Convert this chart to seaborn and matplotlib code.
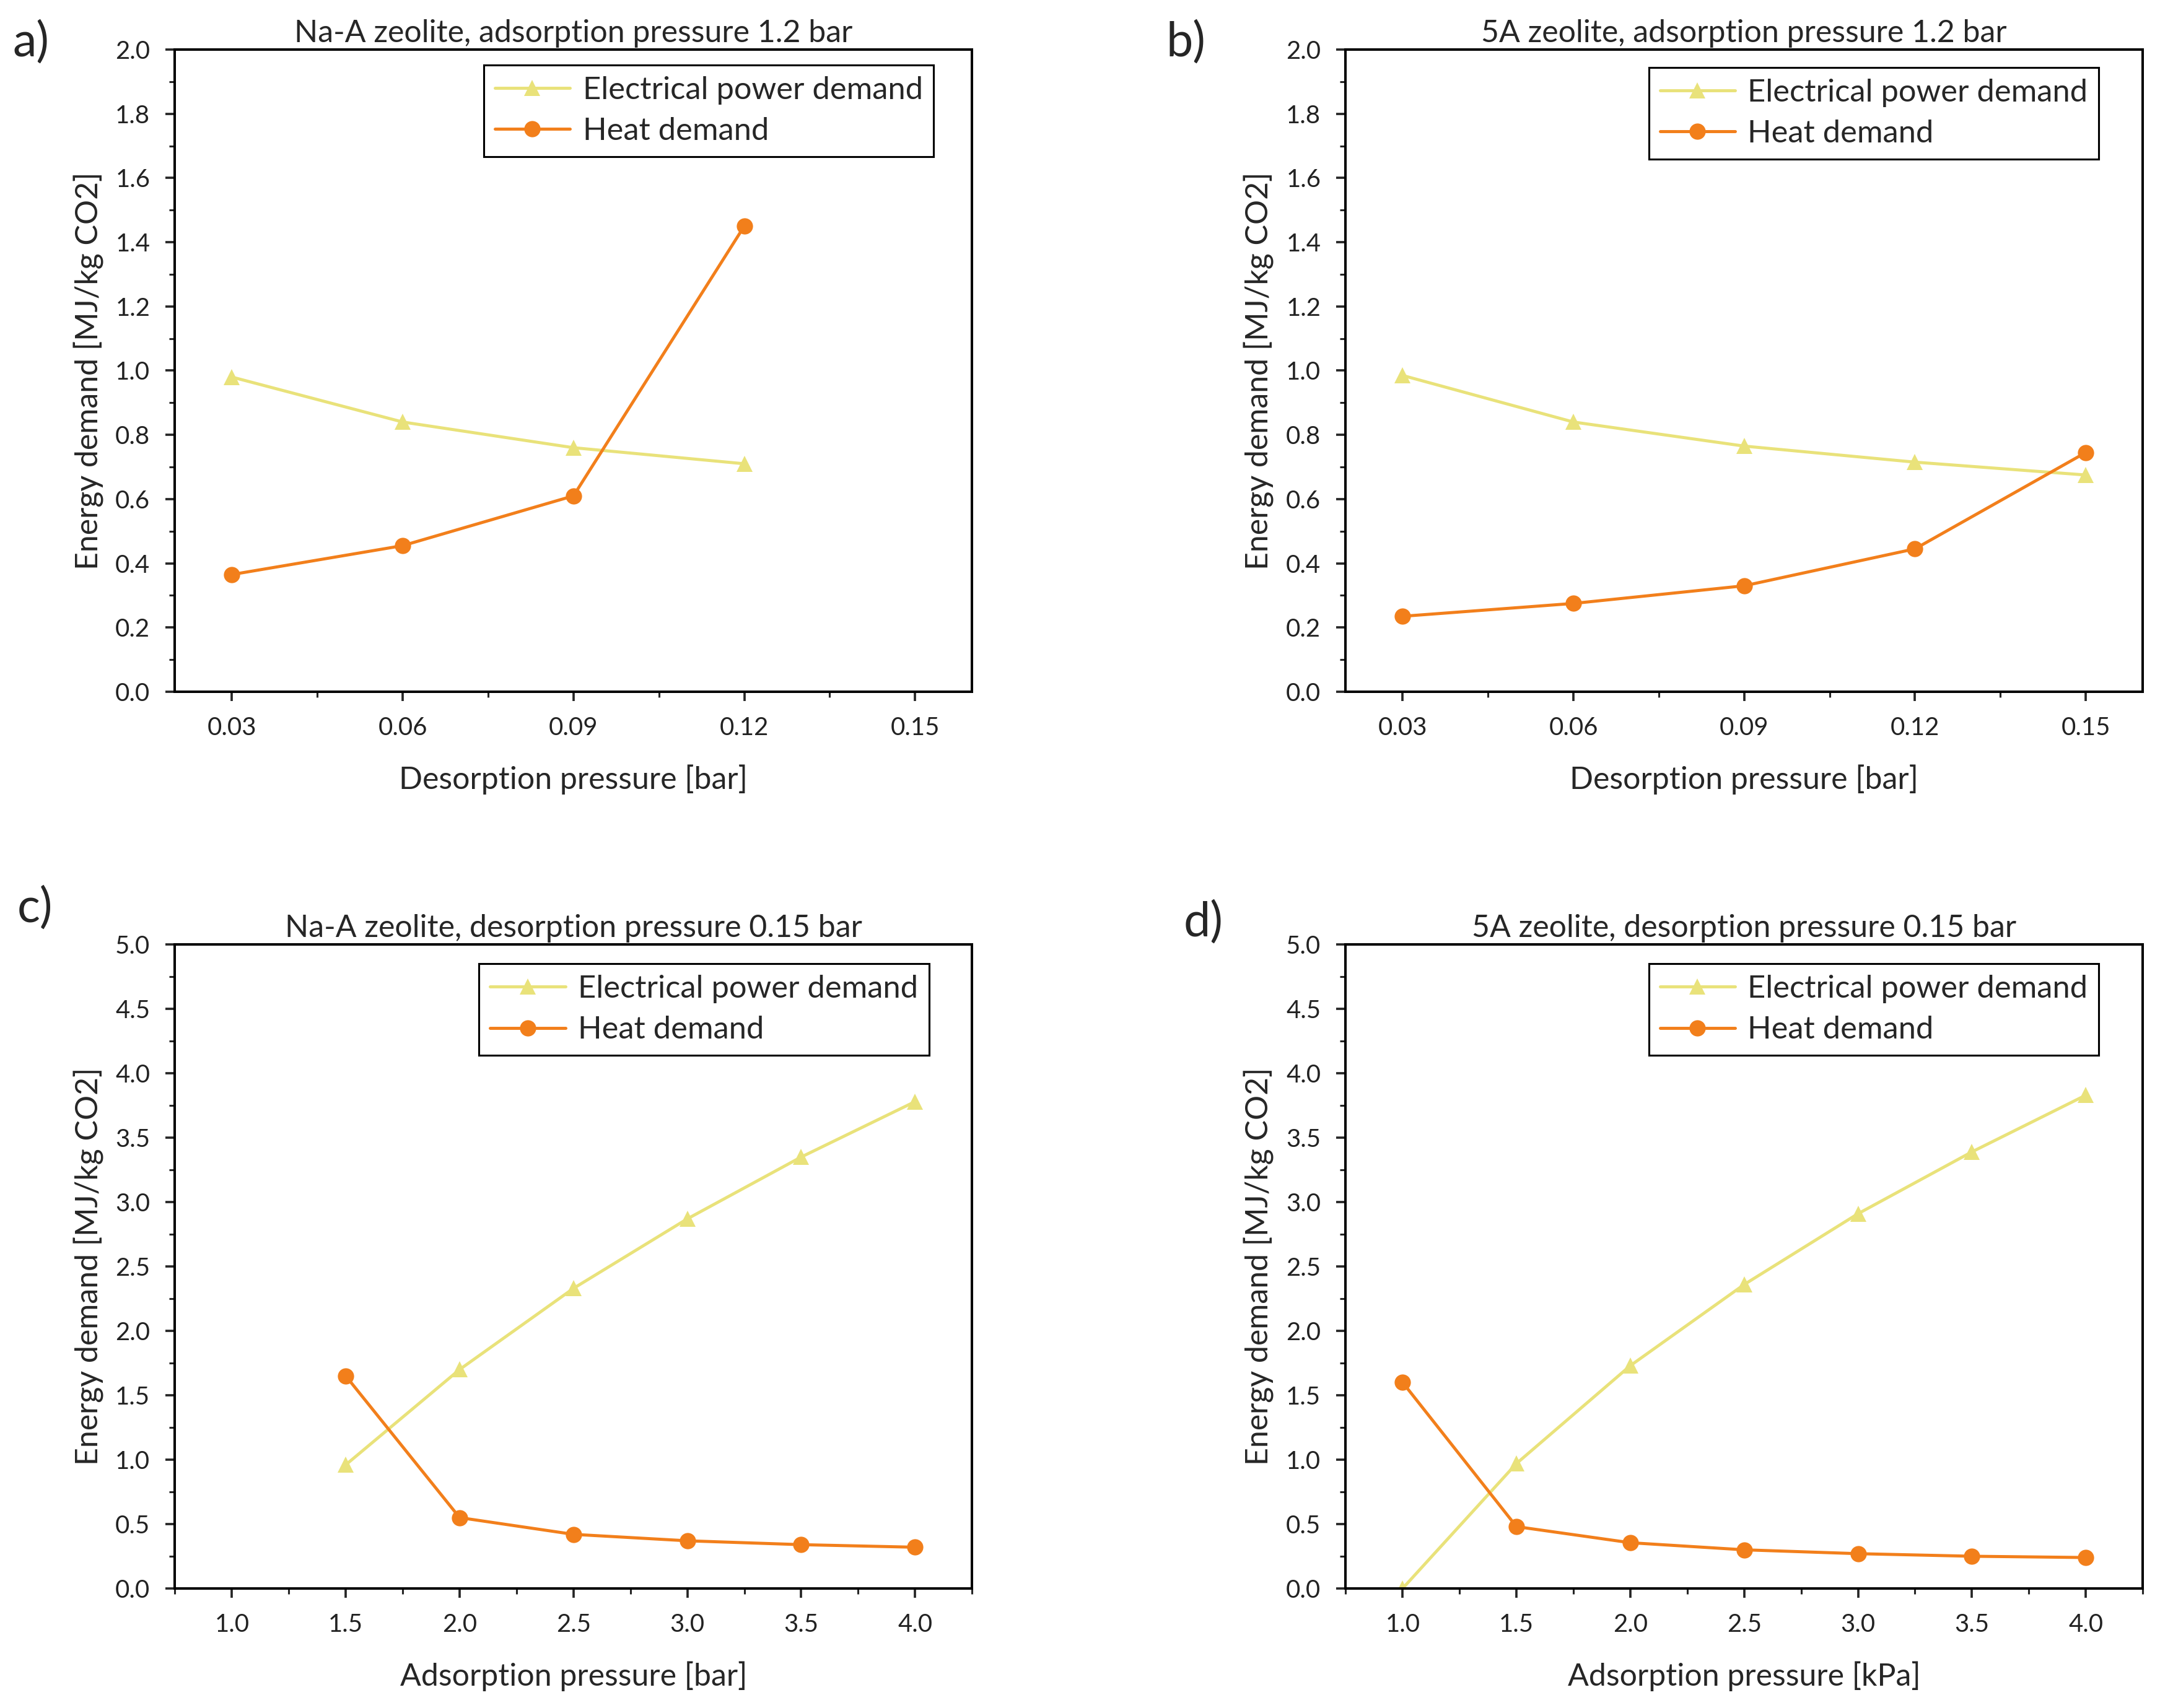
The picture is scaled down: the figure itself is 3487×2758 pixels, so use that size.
import numpy as np
import pandas as pd
import matplotlib
matplotlib.use('Agg')
import matplotlib.pyplot as plt
import seaborn as sns
from matplotlib.ticker import MultipleLocator, FixedLocator

# values
desorp_p = [0.03, 0.06, 0.09, 0.12, 0.15]
naa_elec_a = [0.98, 0.84, 0.76, 0.71]
naa_heat_a = [0.365, 0.455, 0.61, 1.45]
a5_elec_b = [0.985, 0.84, 0.765, 0.715, 0.675]
a5_heat_b = [0.235, 0.275, 0.33, 0.445, 0.745]

adsorp_p = [1.0, 1.5, 2.0, 2.5, 3.0, 3.5, 4.0]
naa_elec_c = [0.96, 1.70, 2.33, 2.87, 3.35, 3.78]
naa_heat_c = [1.65, 0.55, 0.42, 0.37, 0.34, 0.32]
a5_elec_d = [0.0, 0.97, 1.73, 2.36, 2.91, 3.39, 3.83]
a5_heat_d = [1.60, 0.48, 0.355, 0.30, 0.27, 0.25, 0.24]

titles = ['Na-A zeolite, adsorption pressure 1.2 bar',
          '5A zeolite, adsorption pressure 1.2 bar',
          'Na-A zeolite, desorption pressure 0.15 bar',
          '5A zeolite, desorption pressure 0.15 bar']
xlabels = ['Desorption pressure [bar]', 'Desorption pressure [bar]',
           'Adsorption pressure [bar]', 'Adsorption pressure [kPa]']
panel_tags = ['a)', 'b)', 'c)', 'd)']

sns.set_style('ticks')
plt.rcParams['font.family'] = ['Lato', 'DejaVu Sans']

yellow = '#E9E27A'
orange = '#F27F1B'

def make_df(x, elec, heat):
    d1 = pd.DataFrame({'x': x[len(x) - len(elec):], 'y': elec, 'series': 'Electrical power demand'})
    d2 = pd.DataFrame({'x': x[len(x) - len(heat):], 'y': heat, 'series': 'Heat demand'})
    return pd.concat([d1, d2], ignore_index=True)

frames = [
    make_df(desorp_p[:4], naa_elec_a, naa_heat_a),
    make_df(desorp_p, a5_elec_b, a5_heat_b),
    make_df(adsorp_p[1:], naa_elec_c, naa_heat_c),
    make_df(adsorp_p, a5_elec_d, a5_heat_d),
]

fig = plt.figure(figsize=(3487 / 222.4, 2758 / 222.4), dpi=222.4)
pos = [[0.081, 0.595, 0.369, 0.376],
       [0.623, 0.595, 0.369, 0.376],
       [0.081, 0.070, 0.369, 0.377],
       [0.623, 0.070, 0.369, 0.377]]
tag_pos = [(0.006, 0.988), (0.540, 0.988), (0.008, 0.481), (0.548, 0.473)]
leg_anchor = [(0.952, 0.976), (0.945, 0.972), (0.946, 0.970), (0.945, 0.970)]

for i in range(4):
    ax = fig.add_axes(pos[i])
    sns.lineplot(data=frames[i], x='x', y='y', hue='series', style='series',
                 palette={'Electrical power demand': yellow, 'Heat demand': orange},
                 markers={'Electrical power demand': '^', 'Heat demand': 'o'},
                 dashes=False, markersize=8.5, markeredgewidth=0, linewidth=1.6,
                 ax=ax)
    if i < 2:
        ax.set_xlim(0.02, 0.16)
        ax.set_ylim(0, 2.0)
        ax.xaxis.set_major_locator(FixedLocator(desorp_p))
        ax.xaxis.set_minor_locator(MultipleLocator(0.015))
        ax.yaxis.set_major_locator(MultipleLocator(0.2))
        ax.yaxis.set_minor_locator(MultipleLocator(0.1))
        ax.set_xticklabels(['%.2f' % v for v in desorp_p])
    else:
        ax.set_xlim(0.75, 4.25)
        ax.set_ylim(0, 5.0)
        ax.xaxis.set_major_locator(FixedLocator(adsorp_p))
        ax.xaxis.set_minor_locator(MultipleLocator(0.25))
        ax.yaxis.set_major_locator(MultipleLocator(0.5))
        ax.yaxis.set_minor_locator(MultipleLocator(0.25))
    ax.yaxis.set_major_formatter(matplotlib.ticker.FormatStrFormatter('%.1f'))
    ax.tick_params(which='major', direction='out', length=5, width=1.2, labelsize=13,
                   pad=8, labelcolor='#222222')
    ax.tick_params(which='minor', direction='out', length=3, width=1.0)
    for s in ax.spines.values():
        s.set_linewidth(1.3)
        s.set_color('black')
    ax.set_title(titles[i], fontsize=16.2, pad=4)
    ax.set_xlabel(xlabels[i], fontsize=16.2, labelpad=13)
    ax.set_ylabel('Energy demand [MJ/kg CO2]', fontsize=16.2, labelpad=6)
    leg = ax.legend(loc='upper right', bbox_to_anchor=leg_anchor[i], fontsize=16.4,
                    frameon=True, fancybox=False, edgecolor='black', framealpha=1,
                    handlelength=2.4, handletextpad=0.4, borderpad=0.35,
                    labelspacing=0.4, borderaxespad=0)
    leg.get_frame().set_linewidth(1.0)
    fig.text(tag_pos[i][0], tag_pos[i][1], panel_tags[i], fontsize=25, va='top', ha='left')

fig.savefig('out.png', dpi=222.4, facecolor='white')
